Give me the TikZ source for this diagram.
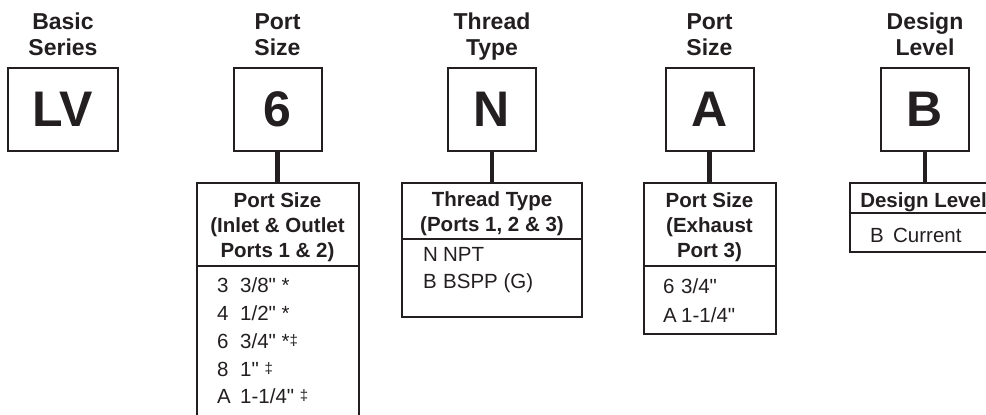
\documentclass[tikz,border=0pt]{standalone}
\usepackage{fontspec}
\setmainfont{Liberation Sans}
\setmonofont{Liberation Sans}
\definecolor{ink}{HTML}{231F20}
\newcommand\mydag{\raisebox{3pt}{\fontsize{15}{15}\selectfont ‡}}
\newcommand\inch{{\ttfamily\symbol{34}}}
\begin{document}
\begin{tikzpicture}[x=1pt,y=-1pt,
  every node/.style={text=ink},
  topbox/.style={draw=ink, line width=2pt, minimum height=83pt, minimum width=88pt, inner sep=0pt, font=\fontsize{50}{50}\selectfont\bfseries},
  lbl/.style={anchor=base, inner sep=0pt, font=\fontsize{23}{26}\selectfont\bfseries},
  subbox/.style={draw=ink, line width=2pt, inner sep=0pt},
  hdr/.style={anchor=base, inner sep=0pt, font=\fontsize{20.5}{25}\selectfont\bfseries},
  itm/.style={anchor=base west, inner sep=0pt, font=\fontsize{20.5}{25}\selectfont},
  conn/.style={draw=ink, line width=4.5pt},
  divl/.style={draw=ink, line width=2pt}]
\useasboundingbox (0,0) rectangle (986,415);
\clip (0,0) rectangle (986,415);

% top labels
\node[lbl] (l1a) at (63,29) {Basic};
\node[lbl] (l1b) at (63,55) {Series};
\node[lbl] (l2a) at (277.5,29) {Port};
\node[lbl] (l2b) at (277.5,55) {Size};
\node[lbl] (l3a) at (492,29) {Thread};
\node[lbl] (l3b) at (492,55) {Type};
\node[lbl] (l4a) at (709.5,29) {Port};
\node[lbl] (l4b) at (709.5,55) {Size};
\node[lbl] (l5a) at (925,29) {Design};
\node[lbl] (l5b) at (925,55) {Level};

% top boxes
\node[topbox, minimum width=110pt] (lv) at (63,109.5) {LV};
\node[topbox] (six) at (277.5,109.5) {6};
\node[topbox] (nn) at (492,109.5) {N};
\node[topbox] (aa) at (709.5,109.5) {A};
\node[topbox] (bb) at (925,109.5) {B};

% sub boxes
\node[subbox, minimum width=162pt, minimum height=242pt] (ps) at (277.5,304) {};
\node[subbox, minimum width=180pt, minimum height=134pt] (tt) at (492,250) {};
\node[subbox, minimum width=132pt, minimum height=151pt] (ex) at (709.5,258.5) {};
\node[subbox, minimum width=148pt, minimum height=69pt] (dl) at (923.5,217.5) {};

% connectors
\draw[conn] (six.south) -- (six.south |- ps.north);
\draw[conn] (nn.south) -- (nn.south |- tt.north);
\draw[conn] (aa.south) -- (aa.south |- ex.north);
\draw[conn] (bb.south) -- (bb.south |- dl.north);

% dividers
\draw[divl] (ps.west |- 0,266) -- (ps.east |- 0,266);
\draw[divl] (tt.west |- 0,239) -- (tt.east |- 0,239);
\draw[divl] (ex.west |- 0,266) -- (ex.east |- 0,266);
\draw[divl] (dl.west |- 0,213) -- (dl.east |- 0,213);

% port size (inlet/outlet)
\node[hdr] (psh1) at (277.5,207) {Port Size};
\node[hdr] (psh2) at (277.5,232) {(Inlet \& Outlet};
\node[hdr] (psh3) at (277.5,257) {Ports 1 \& 2)};
\node[itm] (psi1) at (217,292) {\makebox[23pt][l]{3}3/8\inch{} *};
\node[itm] (psi2) at (217,320) {\makebox[23pt][l]{4}1/2\inch{} *};
\node[itm] (psi3) at (217,348) {\makebox[23pt][l]{6}3/4\inch{} *\mydag};
\node[itm] (psi4) at (217,376) {\makebox[23pt][l]{8}1\inch{} \mydag};
\node[itm] (psi5) at (217,403) {\makebox[23pt][l]{A}1-1/4\inch{} \mydag};

% thread type
\node[hdr] (tth1) at (492,206) {Thread Type};
\node[hdr] (tth2) at (492,231) {(Ports 1, 2 \& 3)};
\node[itm] (tti1) at (423,261) {\makebox[20pt][l]{N}NPT};
\node[itm] (tti2) at (423,288) {\makebox[20pt][l]{B}BSPP (G)};

% exhaust
\node[hdr] (exh1) at (709.5,207) {Port Size};
\node[hdr] (exh2) at (709.5,232) {(Exhaust};
\node[hdr] (exh3) at (709.5,257) {Port 3)};
\node[itm] (exi1) at (663,293) {\makebox[18pt][l]{6}3/4\inch};
\node[itm] (exi2) at (663,322) {\makebox[18pt][l]{A}1-1/4\inch};

% design level
\node[hdr] (dlh1) at (923.5,207) {Design Level};
\node[itm] (dli1) at (870,242.5) {\makebox[23pt][l]{B}Current};
\end{tikzpicture}
\end{document}
